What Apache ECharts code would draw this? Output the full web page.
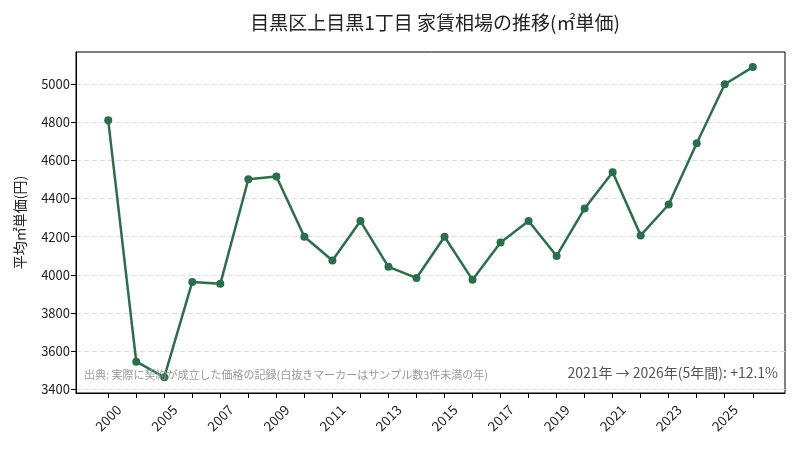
<!DOCTYPE html>
<html>
<head>
<meta charset="utf-8">
<script src="https://cdn.jsdelivr.net/npm/echarts@6/dist/echarts.min.js"></script>
<style>
  html, body { margin: 0; padding: 0; background: #fff; }
  #chart { width: 800px; height: 450px; }
</style>
</head>
<body>
<div id="chart"></div>
<script>
// 年（2番目はラベル非表示の年）
const years = ['2000', '2004', '2005', '2006', '2007', '2008', '2009', '2010', '2011', '2012',
  '2013', '2014', '2015', '2016', '2017', '2018', '2019', '2020', '2021', '2022',
  '2023', '2024', '2025', '2026'];
// 平均㎡単価(円)
const prices = [4810, 3545, 3464, 3963, 3953, 4501, 4516, 4200, 4075, 4282,
  4042, 3984, 4200, 3974, 4170, 4282, 4099, 4348, 4538, 4207,
  4369, 4690, 4999, 5089];
const yTicks = [3400, 3600, 3800, 4000, 4200, 4400, 4600, 4800, 5000];

const FONT = '"Noto Sans CJK JP", "Noto Sans", sans-serif';
const LINE_COLOR = '#2b6e4b';

const chart = echarts.init(document.getElementById('chart'));

const idx = years.map((_, i) => i);
const labelIdx = idx.filter(i => i % 2 === 0);

const option = {
  backgroundColor: '#fff',
  animation: false,
  textStyle: { fontFamily: FONT },
  title: {
    text: '目黒区上目黒1丁目 家賃相場の推移(㎡単価)',
    left: 430,
    top: 8,
    textAlign: 'center',
    textStyle: { fontFamily: FONT, fontSize: 19, fontWeight: 'normal', color: '#222' }
  },
  grid: {
    left: 76, right: 15, top: 52, bottom: 57,
    show: true, borderColor: '#000', borderWidth: 1
  },
  xAxis: {
    type: 'value',
    min: -1.15,
    max: 24.15,
    axisLine: { show: true, onZero: false, lineStyle: { color: '#000' } },
    axisTick: { show: true, customValues: idx, length: 5, lineStyle: { color: '#000' } },
    axisLabel: {
      customValues: labelIdx,
      formatter: v => years[Math.round(v)],
      rotate: 45,
      align: 'center',
      verticalAlign: 'middle',
      fontSize: 13.5,
      color: '#222',
      margin: 25
    },
    splitLine: { show: false }
  },
  yAxis: {
    type: 'value',
    min: 3381,
    max: 5168,
    name: '平均㎡単価(円)',
    nameLocation: 'middle',
    nameGap: 49,
    nameTextStyle: { fontFamily: FONT, fontSize: 14, color: '#222' },
    axisLine: { show: true, onZero: false, lineStyle: { color: '#000' } },
    axisTick: { show: true, customValues: yTicks, length: 5, lineStyle: { color: '#000' } },
    axisLabel: { customValues: yTicks, formatter: v => String(v), fontSize: 13, color: '#222', margin: 6 },
    splitLine: { show: true, lineStyle: { color: '#dddddd', type: [5, 3], width: 1 } }
  },
  series: [{
    type: 'line',
    data: prices.map((v, i) => [i, v]),
    symbol: 'circle',
    symbolSize: 8,
    lineStyle: { color: LINE_COLOR, width: 2.5 },
    itemStyle: { color: LINE_COLOR },
    z: 5
  }],
  graphic: [
    {
      type: 'text',
      left: 84,
      top: 369,
      style: {
        text: '出典: 実際に契約が成立した価格の記録(白抜きマーカーはサンプル数3件未満の年)',
        fontFamily: FONT, fontSize: 11, fill: '#999'
      },
      z: 10
    },
    {
      type: 'text',
      right: 22,
      top: 366,
      style: {
        text: '2021年 → 2026年(5年間): +12.1%',
        fontFamily: FONT, fontSize: 14, fill: '#555'
      },
      z: 10
    }
  ]
};

chart.setOption(option);
</script>
</body>
</html>
